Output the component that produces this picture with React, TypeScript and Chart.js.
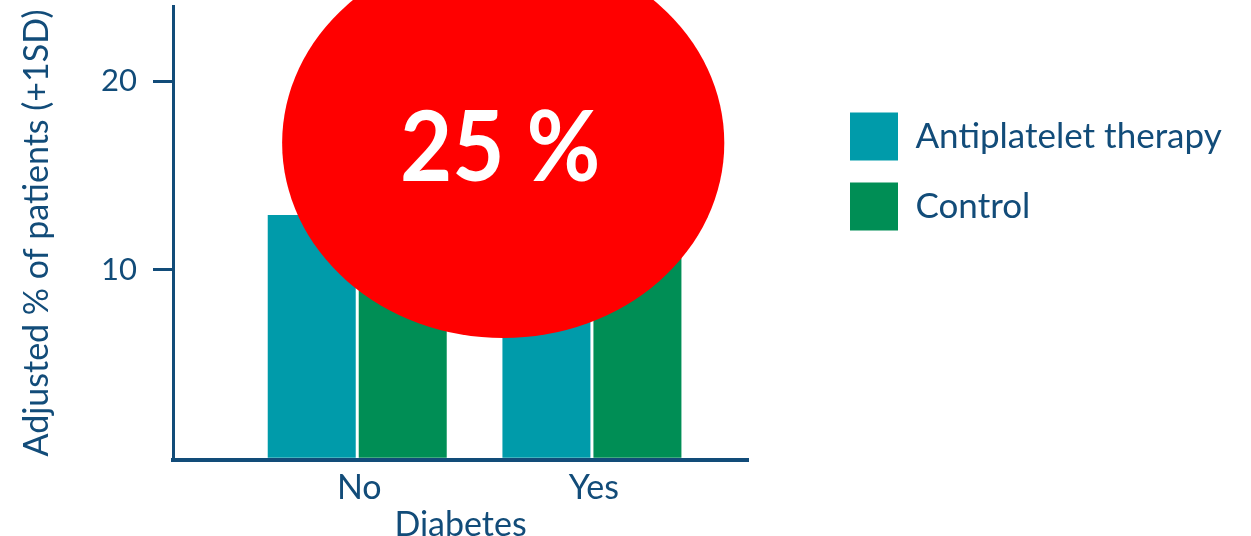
import React, { useEffect, useRef } from 'react';
import { Chart, registerables } from 'chart.js';

Chart.register(...registerables);

// ---- data ----
const CATEGORIES = ['No', 'Yes'];
const SERIES_NAMES = ['Antiplatelet therapy', 'Control'];
const ANTIPLATELET = [12.9, 15.0];
const CONTROL = [13.4, 20.0];
const Y_TICKS = [10, 20];
const X_TITLE = 'Diabetes';
const Y_TITLE = 'Adjusted % of patients (+1SD)';
const BADGE_TEXT = '25 %';
// badge (annotation) centre and radii in data units
const BADGE_CENTER = [0.622, 16.72];
const BADGE_RADII = [0.942, 10.36];

// ---- axis ranges ----
const Y_MIN = -0.12;
const Y_MAX = 24;
const X_MIN = -0.785;
const X_MAX = 1.665;

// ---- style ----
const NAVY = '#124C79';
const TEAL = '#009BAA';
const GREEN = '#008E55';
const RED = '#FF0000';
const FONT = 'Lato';
const LEGEND_FONT_SIZE = 35;
const LEGEND_BOX = 48;
const LEGEND_PAD = 22;
const LEGEND_EXTRA = 10; // Chart.js adds 10px to vertical legends
const RIGHT_GAP = 80;
const WIDTH = 1251;
const HEIGHT = 536;
const PLOT_RIGHT = 748;

const badgePlugin = {
  id: 'badge',
  afterDraw(chart: any) {
    const { ctx } = chart;
    const x = chart.scales.x;
    const y = chart.scales.y;
    const cx = x.getPixelForValue(BADGE_CENTER[0]);
    const cy = y.getPixelForValue(BADGE_CENTER[1]);
    const rx = Math.abs(x.getPixelForValue(BADGE_CENTER[0] + BADGE_RADII[0]) - cx);
    const ry = Math.abs(y.getPixelForValue(BADGE_CENTER[1] + BADGE_RADII[1]) - cy);
    ctx.save();
    ctx.fillStyle = RED;
    ctx.beginPath();
    ctx.ellipse(cx, cy, rx, ry, 0, 0, Math.PI * 2);
    ctx.fill();
    ctx.fillStyle = '#FFFFFF';
    ctx.font = `bold 97px ${FONT}`;
    ctx.textAlign = 'center';
    ctx.textBaseline = 'alphabetic';
    ctx.translate(cx - 3, cy + 38);
    ctx.scale(0.93, 1);
    ctx.fillText(BADGE_TEXT, 0, 0);
    ctx.restore();
  },
};

export default function App() {
  const canvasRef = useRef<HTMLCanvasElement | null>(null);

  useEffect(() => {
    if (!canvasRef.current) return;
    const mctx = document.createElement('canvas').getContext('2d')!;
    mctx.font = `${LEGEND_FONT_SIZE}px ${FONT}`;
    const tw = Math.max(...SERIES_NAMES.map((t) => mctx.measureText(t).width));
    const itemWidth = LEGEND_BOX + LEGEND_FONT_SIZE / 2 + tw;
    const padRight = Math.max(
      0,
      WIDTH - PLOT_RIGHT - RIGHT_GAP - LEGEND_PAD - itemWidth - LEGEND_EXTRA
    );

    const chart = new Chart(canvasRef.current, {
      type: 'bar',
      data: {
        datasets: [
          {
            label: SERIES_NAMES[0],
            data: ANTIPLATELET.map((v, i) => ({ x: i, y: v })),
            backgroundColor: TEAL,
            borderWidth: 0,
            categoryPercentage: 0.7755,
            barPercentage: 0.967,
          },
          {
            label: SERIES_NAMES[1],
            data: CONTROL.map((v, i) => ({ x: i, y: v })),
            backgroundColor: GREEN,
            borderWidth: 0,
            categoryPercentage: 0.7755,
            barPercentage: 0.967,
          },
        ],
      } as any,
      options: {
        animation: false,
        responsive: true,
        maintainAspectRatio: false,
        events: [],
        layout: { padding: { top: 6, left: 0, bottom: 0, right: padRight } },
        plugins: {
          tooltip: { enabled: false },
          legend: {
            position: 'right',
            align: 'start',
            maxWidth: 2000,
            title: { display: true, text: '', padding: { top: 70, bottom: 0 }, font: { size: 12 } },
            labels: {
              boxWidth: LEGEND_BOX,
              boxHeight: LEGEND_BOX,
              padding: LEGEND_PAD,
              color: NAVY,
              font: { family: FONT, size: LEGEND_FONT_SIZE },
            },
          },
        },
        scales: {
          x: {
            type: 'linear',
            min: X_MIN,
            max: X_MAX,
            offset: false,
            afterBuildTicks: (s: any) => {
              s.ticks = CATEGORIES.map((_, i) => ({ value: i }));
            },
            afterFit: (s: any) => {
              s.height = 76;
              s.paddingLeft = 0;
              s.paddingRight = 0;
            },
            grid: { display: false, drawTicks: false },
            border: { display: true, color: NAVY, width: 4 },
            ticks: {
              callback: (v: any) => CATEGORIES[v] ?? '',
              color: NAVY,
              font: { family: FONT, size: 34 },
              padding: 8,
              labelOffset: 2,
              maxRotation: 0,
              autoSkip: false,
            },
            title: {
              display: true,
              text: X_TITLE,
              color: NAVY,
              font: { family: FONT, size: 34, lineHeight: 1 },
              padding: { top: 0, bottom: -6 },
            },
          },
          y: {
            type: 'linear',
            min: Y_MIN,
            max: Y_MAX,
            afterBuildTicks: (s: any) => {
              s.ticks = Y_TICKS.map((v) => ({ value: v }));
            },
            afterFit: (s: any) => {
              s.width = 173;
              s.paddingTop = 0;
              s.paddingBottom = 0;
            },
            grid: {
              display: true,
              drawOnChartArea: false,
              drawTicks: true,
              tickLength: 20,
              tickWidth: 3,
              tickColor: NAVY,
            },
            border: { display: true, color: NAVY, width: 3 },
            ticks: { color: NAVY, font: { family: FONT, size: 31 }, padding: 16 },
            title: {
              display: true,
              text: Y_TITLE,
              color: NAVY,
              font: { family: FONT, size: 34 },
              padding: { top: 17, bottom: 0 },
            },
          },
          yRight: {
            type: 'linear',
            position: 'right',
            display: true,
            grid: { display: false, drawTicks: false },
            border: { display: false },
            ticks: { display: false },
            afterFit: (s: any) => {
              s.width = RIGHT_GAP;
              s.paddingTop = 0;
              s.paddingBottom = 0;
            },
          },
        },
      } as any,
      plugins: [badgePlugin],
    });
    return () => chart.destroy();
  }, []);

  return (
    <div style={{ position: 'fixed', left: 0, top: 0, width: WIDTH, height: HEIGHT, background: '#FFFFFF' }}>
      <canvas ref={canvasRef} />
    </div>
  );
}
